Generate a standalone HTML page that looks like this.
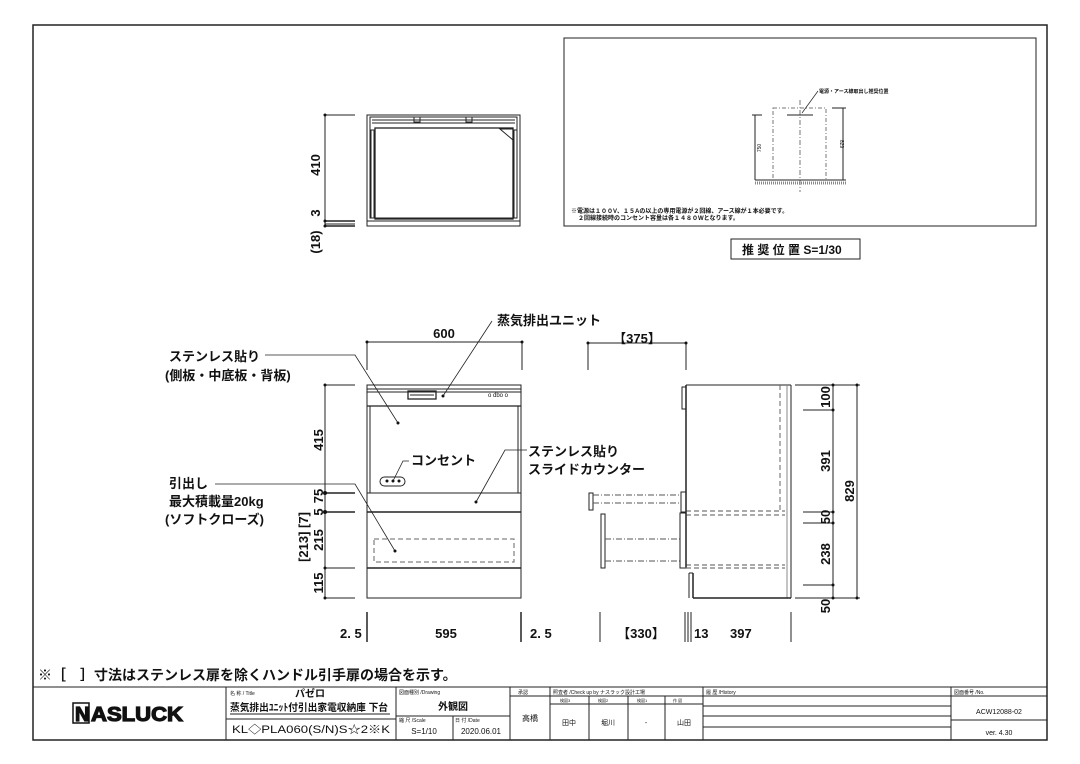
<!DOCTYPE html>
<html><head><meta charset="utf-8"><style>
html,body{margin:0;padding:0;background:#fff}
svg{display:block}
text{font-family:"Liberation Sans","Noto Sans CJK JP",sans-serif;fill:#111}
.b{font-weight:bold}
</style></head><body>
<svg width="1080" height="764" viewBox="0 0 1080 764" xmlns="http://www.w3.org/2000/svg">
<g fill="none" stroke="#222" stroke-width="1">
<rect x="33" y="25" width="1014" height="715" stroke-width="1.5"/>

<rect x="367" y="115" width="153" height="111"/>
<rect x="367" y="115" width="153" height="106"/>
<rect x="370" y="117" width="147" height="101"/>
<line x1="372" y1="123" x2="515" y2="123"/>
<line x1="372" y1="120" x2="515" y2="120"/>
<rect x="375" y="128" width="138" height="91" stroke-width="1.3"/>
<rect x="371" y="130" width="3" height="88"/>
<rect x="514" y="130" width="3" height="88"/>
<path d="M500 129 L513 129 L513 140 Z"/>
<rect x="414" y="117" width="6" height="5"/><rect x="466" y="117" width="6" height="5"/>
<line x1="325" y1="115" x2="325" y2="226"/>
<line x1="325" y1="115" x2="355" y2="115"/>
<line x1="325" y1="221" x2="355" y2="221" stroke-width="1.5"/>
<line x1="325" y1="224" x2="355" y2="224"/>
<line x1="325" y1="226" x2="355" y2="226" stroke-width="1.5"/>

<rect x="564" y="38" width="472" height="188"/>
<rect x="731" y="239" width="129" height="20"/>
<rect x="773" y="108" width="53" height="72" stroke-dasharray="4,2,1,2" stroke="#777"/>
<line x1="800" y1="100" x2="800" y2="192" stroke-dasharray="5,2,1,2" stroke="#777"/>
<line x1="787" y1="115" x2="813" y2="115"/>
<line x1="755" y1="115" x2="755" y2="180"/><line x1="752" y1="115" x2="762" y2="115"/>
<line x1="843" y1="108" x2="843" y2="180"/><line x1="832" y1="108" x2="846" y2="108"/>
<line x1="755" y1="180" x2="846" y2="180"/>
<line x1="755" y1="183" x2="846" y2="183" stroke="#888" stroke-dasharray="1,1" stroke-width="3"/>
<line x1="802" y1="113" x2="818" y2="91" stroke-width="0.7"/>

<line x1="367" y1="342" x2="522" y2="342"/>
<line x1="367" y1="342" x2="367" y2="370"/><line x1="522" y1="342" x2="522" y2="370"/>
<rect x="367" y="385" width="154" height="213"/>
<line x1="367" y1="389" x2="521" y2="389"/>
<line x1="367" y1="392" x2="521" y2="392"/>
<line x1="367" y1="406" x2="521" y2="406" stroke-width="1.3"/>
<line x1="370" y1="406" x2="370" y2="493"/><line x1="518" y1="406" x2="518" y2="493"/>
<rect x="408" y="391" width="28" height="8" stroke-width="1.3"/>
<line x1="410" y1="395" x2="434" y2="395"/>
<rect x="367" y="493" width="154" height="19"/>
<line x1="367" y1="512" x2="521" y2="512" stroke-width="1.5"/>
<line x1="367" y1="568" x2="521" y2="568" stroke-width="1.5"/>
<rect x="374" y="539" width="140" height="23" stroke-dasharray="5,3" stroke="#666"/>
<rect x="380" y="477" width="25" height="9" rx="4.5"/>
<line x1="325" y1="385" x2="325" y2="598"/>
<line x1="325" y1="385" x2="355" y2="385"/>
<line x1="325" y1="493" x2="355" y2="493" stroke-width="1.4"/>
<line x1="325" y1="512" x2="355" y2="512" stroke-width="1.4"/>
<line x1="325" y1="568" x2="355" y2="568"/>
<line x1="325" y1="598" x2="355" y2="598"/>
<line x1="367" y1="612" x2="367" y2="642" stroke-width="1.5"/><line x1="521" y1="612" x2="521" y2="642" stroke-width="1.5"/>
<polyline points="265,355 355,355 398,423" stroke-width="0.8"/>
<polyline points="215,484 355,484 395,551" stroke-width="0.8"/>
<line x1="492" y1="321" x2="443" y2="396" stroke-width="0.8"/>
<polyline points="409,461 403,461 393,481" stroke-width="0.8"/>
<polyline points="527,450 505,450 476,502" stroke-width="0.8"/>

<line x1="588" y1="343" x2="686" y2="343"/>
<line x1="588" y1="343" x2="588" y2="370"/><line x1="686" y1="343" x2="686" y2="370"/>
<line x1="686" y1="385" x2="791" y2="385"/>
<line x1="686" y1="385" x2="686" y2="567" stroke-width="1.5"/>
<rect x="682" y="387" width="4" height="22"/>
<line x1="791" y1="385" x2="791" y2="598"/>
<line x1="787" y1="385" x2="787" y2="598" stroke="#888"/>
<line x1="780" y1="385" x2="780" y2="510" stroke-dasharray="5,3" stroke="#666"/>
<line x1="689" y1="573" x2="689" y2="598"/><line x1="693" y1="573" x2="693" y2="598" stroke-width="1.5"/>
<line x1="689" y1="573" x2="693" y2="573"/>
<line x1="693" y1="598" x2="791" y2="598" stroke-width="1.5"/>
<line x1="686" y1="511" x2="785" y2="511" stroke-dasharray="5,3" stroke="#555"/>
<line x1="686" y1="515" x2="785" y2="515" stroke-dasharray="5,3" stroke="#555"/>
<line x1="686" y1="565" x2="785" y2="565" stroke-dasharray="5,3" stroke="#555"/>
<line x1="686" y1="568" x2="785" y2="568" stroke-dasharray="5,3" stroke="#555"/>
<rect x="589" y="493" width="4" height="17"/>
<line x1="593" y1="495" x2="681" y2="495" stroke-dasharray="6,2,1,2" stroke="#555"/>
<line x1="593" y1="503" x2="681" y2="503" stroke-dasharray="6,2,1,2" stroke="#555"/>
<rect x="681" y="492" width="5" height="20"/>
<rect x="601" y="514" width="4" height="54"/>
<line x1="605" y1="539" x2="680" y2="539" stroke-dasharray="6,2,1,2" stroke="#555"/>
<line x1="605" y1="561" x2="680" y2="561" stroke-dasharray="6,2,1,2" stroke="#555"/>
<rect x="680" y="513" width="6" height="55"/>
<line x1="833" y1="385" x2="833" y2="598"/>
<line x1="857" y1="385" x2="857" y2="598"/>
<line x1="795" y1="385" x2="860" y2="385"/>
<line x1="803" y1="410" x2="833" y2="410"/>
<line x1="803" y1="512" x2="833" y2="512"/>
<line x1="803" y1="523" x2="833" y2="523"/>
<line x1="803" y1="585" x2="833" y2="585"/>
<line x1="795" y1="598" x2="860" y2="598"/>
<line x1="600" y1="612" x2="600" y2="642"/>
<line x1="685" y1="612" x2="685" y2="642"/><line x1="688" y1="612" x2="688" y2="642"/>
<line x1="691" y1="612" x2="691" y2="642"/><line x1="791" y1="612" x2="791" y2="642"/>

<rect x="33" y="687" width="1014" height="53"/>
<line x1="226" y1="687" x2="226" y2="740"/>
<line x1="396" y1="687" x2="396" y2="740"/>
<line x1="510" y1="687" x2="510" y2="740"/>
<line x1="550" y1="687" x2="550" y2="740"/>
<line x1="703" y1="687" x2="703" y2="740"/>
<line x1="951" y1="687" x2="951" y2="740"/>
<line x1="226" y1="719" x2="396" y2="719"/>
<line x1="396" y1="716" x2="510" y2="716"/>
<line x1="453" y1="716" x2="453" y2="740"/>
<line x1="510" y1="696" x2="703" y2="696"/>
<line x1="550" y1="704" x2="703" y2="704"/>
<line x1="589" y1="696" x2="589" y2="740"/>
<line x1="628" y1="696" x2="628" y2="740"/>
<line x1="665" y1="696" x2="665" y2="740"/>
<line x1="703" y1="696" x2="951" y2="696"/>
<line x1="703" y1="706" x2="951" y2="706"/>
<line x1="703" y1="716" x2="951" y2="716"/>
<line x1="703" y1="727" x2="951" y2="727"/>
<line x1="951" y1="696" x2="1047" y2="696"/>
<line x1="951" y1="720" x2="1047" y2="720"/>
</g>
<g fill="#111">
<circle cx="325" cy="115" r="1.5"/><circle cx="325" cy="221" r="1.5"/><circle cx="325" cy="226" r="1.5"/>
<circle cx="367" cy="342" r="1.5"/><circle cx="522" cy="342" r="1.5"/>
<circle cx="325" cy="385" r="1.5"/><circle cx="325" cy="493" r="2"/><circle cx="325" cy="512" r="2"/><circle cx="325" cy="568" r="1.5"/><circle cx="325" cy="598" r="1.5"/>
<circle cx="398" cy="423" r="1.5"/><circle cx="395" cy="551" r="1.5"/><circle cx="443" cy="396" r="1.5"/><circle cx="476" cy="502" r="1.5"/>
<circle cx="588" cy="343" r="1.5"/><circle cx="686" cy="343" r="1.5"/>
<circle cx="833" cy="385" r="1.5"/><circle cx="833" cy="410" r="1.5"/><circle cx="833" cy="512" r="1.5"/><circle cx="833" cy="523" r="1.5"/><circle cx="833" cy="585" r="1.5"/><circle cx="833" cy="598" r="1.5"/>
<circle cx="857" cy="385" r="1.5"/><circle cx="857" cy="598" r="1.5"/>
<circle cx="387" cy="481" r="1.5"/><circle cx="393" cy="481" r="1.5"/><circle cx="399" cy="481" r="1.5"/>
</g>
<text x="488" y="397" font-size="6">o dbo o</text>

<g font-size="13" class="b">
<text transform="translate(320,165) rotate(-90)" text-anchor="middle">410</text>
<text transform="translate(320,213) rotate(-90)" text-anchor="middle">3</text>
<text transform="translate(320,242) rotate(-90)" text-anchor="middle">(18)</text>
</g>
<text x="571" y="213" font-size="6" class="b">※電源は１００V、１５Aの以上の専用電源が２回線、アース線が１本必要です。</text>
<text x="578" y="220" font-size="6" class="b">２回線接続時のコンセント容量は各１４８０Wとなります。</text>
<text x="819" y="93" font-size="5" class="b">電源・アース線取出し推奨位置</text>
<text transform="translate(761,148) rotate(-90)" font-size="5" text-anchor="middle">750</text>
<text transform="translate(840,144) rotate(90)" font-size="5" text-anchor="middle">829</text>
<text x="742" y="254" font-size="12" font-weight="bold">推 奨 位 置 S=1/30</text>

<g font-size="13" class="b">
<text x="444" y="338" text-anchor="middle">600</text>
<text x="497" y="325">蒸気排出ユニット</text>
<text x="169" y="361">ステンレス貼り</text>
<text x="165" y="380">(側板・中底板・背板)</text>
<text x="411" y="465">コンセント</text>
<text x="528" y="456">ステンレス貼り</text>
<text x="528" y="474">スライドカウンター</text>
<text x="169" y="488">引出し</text>
<text x="169" y="506">最大積載量20kg</text>
<text x="165" y="524">(ソフトクローズ)</text>
<text transform="translate(323,440) rotate(-90)" text-anchor="middle">415</text>
<text transform="translate(323,496) rotate(-90)" text-anchor="middle">75</text>
<text transform="translate(323,512) rotate(-90)" text-anchor="middle">5</text>
<text transform="translate(323,540) rotate(-90)" text-anchor="middle">215</text>
<text transform="translate(323,583) rotate(-90)" text-anchor="middle">115</text>
<text transform="translate(308,537) rotate(-90)" text-anchor="middle">[213] [7]</text>
<text x="340" y="638">2. 5</text>
<text x="446" y="638" text-anchor="middle">595</text>
<text x="530" y="638">2. 5</text>
<text x="637" y="343" text-anchor="middle">【375】</text>
<text x="641" y="638" text-anchor="middle">【330】</text>
<text x="694" y="638">13</text>
<text x="730" y="638">397</text>
<text transform="translate(830,397) rotate(-90)" text-anchor="middle">100</text>
<text transform="translate(830,461) rotate(-90)" text-anchor="middle">391</text>
<text transform="translate(830,517) rotate(-90)" text-anchor="middle">50</text>
<text transform="translate(830,554) rotate(-90)" text-anchor="middle">238</text>
<text transform="translate(830,606) rotate(-90)" text-anchor="middle">50</text>
<text transform="translate(854,491) rotate(-90)" text-anchor="middle">829</text>
</g>
<text x="38" y="680" font-size="14" class="b">※［　］寸法はステンレス扉を除くハンドル引手扉の場合を示す。</text>

<rect x="73" y="703" width="16" height="20" fill="none" stroke="#111" stroke-width="1.5"/>
<text x="75" y="721" font-size="20" font-weight="bold" fill="#fff" stroke="#111" stroke-width="1.2">N</text>
<text x="91" y="721" font-size="20" font-weight="bold" fill="#fff" stroke="#111" stroke-width="1.2" textLength="92" lengthAdjust="spacingAndGlyphs">ASLUCK</text>
<text x="230" y="695" font-size="5">名 称 / Title</text>
<text x="295" y="697" font-size="10" font-weight="bold">パゼロ</text>
<text x="230" y="711" font-size="10" class="b" textLength="158" lengthAdjust="spacingAndGlyphs">蒸気排出ﾕﾆｯﾄ付引出家電収納庫 下台</text>
<line x1="230" y1="714" x2="390" y2="714" stroke="#222"/>
<text x="232" y="733" font-size="11" textLength="158" lengthAdjust="spacingAndGlyphs">KL◇PLA060(S/N)S☆2※K</text>
<text x="399" y="694" font-size="5">図面種別 /Drawing</text>
<text x="453" y="710" font-size="10" text-anchor="middle" class="b">外観図</text>
<text x="399" y="722" font-size="5">縮 尺 /Scale</text>
<text x="455" y="722" font-size="5">日 付 /Date</text>
<text x="424" y="734" font-size="8" text-anchor="middle">S=1/10</text>
<text x="481" y="734" font-size="8" text-anchor="middle">2020.06.01</text>
<text x="518" y="694" font-size="5">承認</text>
<text x="530" y="721" font-size="8" text-anchor="middle">高橋</text>
<text x="553" y="694" font-size="5">照査者 /Check up by ナスラック設計工場</text>
<text x="560" y="702" font-size="4">検図3</text><text x="598" y="702" font-size="4">検図2</text><text x="637" y="702" font-size="4">検図1</text><text x="673" y="702" font-size="4">作 図</text>
<text x="569" y="725" font-size="7" text-anchor="middle">田中</text>
<text x="608" y="725" font-size="7" text-anchor="middle">堀川</text>
<text x="646" y="725" font-size="7" text-anchor="middle">-</text>
<text x="684" y="725" font-size="7" text-anchor="middle">山田</text>
<text x="706" y="694" font-size="5">履 歴 /History</text>
<text x="954" y="694" font-size="5">図面番号 /No.</text>
<text x="999" y="714" font-size="7" text-anchor="middle">ACW12088-02</text>
<text x="999" y="735" font-size="7" text-anchor="middle">ver. 4.30</text>
</svg>
</body></html>
